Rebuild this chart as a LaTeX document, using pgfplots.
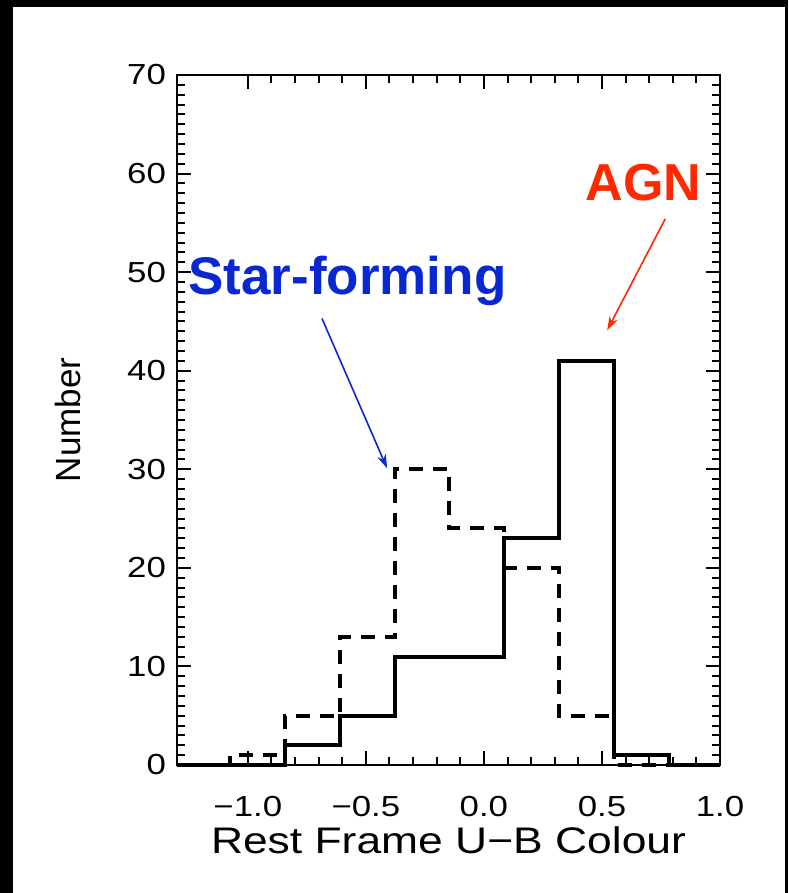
\documentclass[border=0pt]{standalone}
\usepackage{fontspec}
\setmainfont{Liberation Sans}
\newfontfamily\tickfont{Liberation Sans}[FakeStretch=1.2]
\newfontfamily\labfont{Liberation Sans}[FakeStretch=1.2]
\newfontfamily\ylabfont{Liberation Sans}
\usepackage{pgfplots}
\pgfplotsset{compat=1.18}
\usetikzlibrary{arrows.meta}
\definecolor{sfblue}{RGB}{10,40,210}
\definecolor{agnred}{RGB}{255,40,0}
\begin{document}
\begin{tikzpicture}
\begin{axis}[name=ax, scale only axis, width=271.5pt, height=345pt,
 xmin=-1.3, xmax=1.0, ymin=0, ymax=70,
 xtick={-1,-0.5,0,0.5,1}, xticklabels={−1.0,−0.5,0.0,0.5,1.0},
 ytick={0,10,...,70}, yticklabels={0,10,20,30,40,50,60,70},
 minor x tick num=4, minor y tick num=9,
 axis line style={line width=1.2pt},
 major tick length=7pt, minor tick length=4pt,
 every tick/.style={black, line width=1pt},
 tick label style={font=\tickfont\fontsize{14.5}{14.5}\selectfont},
 xticklabel style={yshift=-12pt},
 yticklabel style={xshift=-2pt},
 xlabel={Rest Frame U−B Colour}, ylabel={Number},
 xlabel style={font=\labfont\fontsize{18.5}{18.5}\selectfont, at={(axis description cs:0.5,-0.1087)}, anchor=center},
 ylabel style={font=\ylabfont\fontsize{17.5}{17.5}\selectfont, at={(axis description cs:-0.2007,0.5)}, anchor=center},
 clip=false
]
\addplot[const plot, line width=2pt, black, dash pattern=on 7pt off 5pt] coordinates {(-1.3,0) (-1.074,1) (-0.842,5) (-0.610,13) (-0.378,30) (-0.146,24) (0.086,20) (0.318,5) (0.550,0) (1.0,0)};
\addplot[const plot, line width=2pt, black] coordinates {(-1.3,0) (-0.842,2) (-0.610,5) (-0.378,11) (0.086,23) (0.318,41) (0.550,1) (0.782,0) (1.0,0)};
\node[anchor=base west, font=\bfseries\fontsize{26.5}{26.5}\selectfont, text=sfblue, inner sep=0] at (axis cs:-1.253,47.7) {Star-forming};
\node[anchor=base west, font=\bfseries\fontsize{26}{26}\selectfont, text=agnred, inner sep=0] at (axis cs:0.429,57.3) {AGN};
\draw[sfblue, line width=0.8pt, -{Stealth[length=7pt,width=4.5pt]}] (axis cs:-0.686,45.3) -- (axis cs:-0.410,30.1);
\draw[agnred, line width=0.8pt, -{Stealth[length=7pt,width=4.5pt]}] (axis cs:0.768,55.4) -- (axis cs:0.522,44.1);
\end{axis}
\pgfresetboundingbox
\path[use as bounding box] ([shift={(-88.5pt,-64pt)}]ax.south west) rectangle ([shift={(305.5pt,382.5pt)}]ax.south west);
\fill[black] ([shift={(-88.5pt,-64pt)}]ax.south west) rectangle ([shift={(-82pt,382.5pt)}]ax.south west);
\fill[black] ([shift={(-88.5pt,379pt)}]ax.south west) rectangle ([shift={(305.5pt,382.5pt)}]ax.south west);
\fill[black] ([shift={(304pt,-64pt)}]ax.south west) rectangle ([shift={(305.5pt,382.5pt)}]ax.south west);
\end{tikzpicture}
\end{document}
